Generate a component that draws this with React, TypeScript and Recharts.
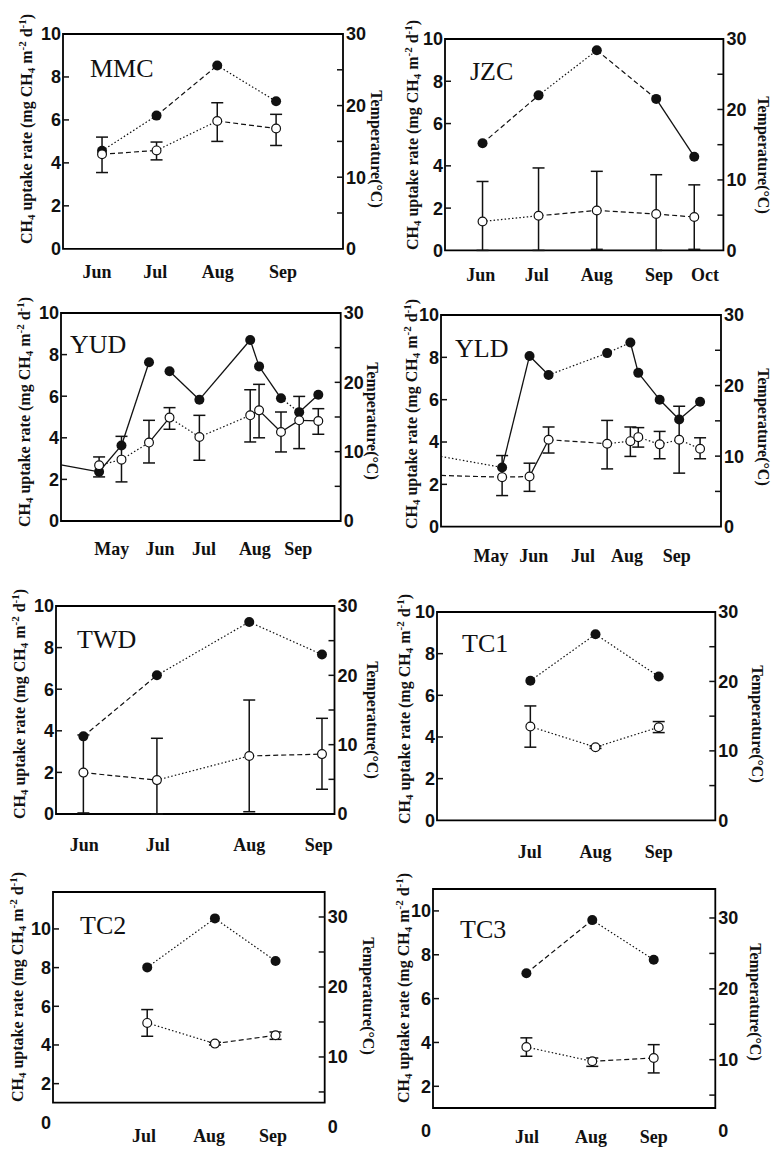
import React from 'react';
import { ComposedChart, Line, XAxis, YAxis, ErrorBar, ReferenceArea } from 'recharts';

// Segment codes, one per gap between points: s = solid, d = dashed, o = dotted, _ = no line

// MMC
const mmcMonths = ['Jun', 'Jul', 'Aug', 'Sep'];
const mmcMonthPos = [6, 6.94, 7.95, 9];
const mmcSampleX = [6.08, 6.96, 7.94, 8.89];
const mmcTemp = [13.7, 18.6, 25.6, 20.6];
const mmcRate = [4.4, 4.58, 5.95, 5.6];
const mmcRateLow = [3.55, 4.14, 5.0, 4.81];
const mmcRateHigh = [5.2, 4.97, 6.8, 6.26];
const mmcTempLines = 'odo';
const mmcRateLines = 'dod';

// JZC
const jzcMonths = ['Jun', 'Jul', 'Aug', 'Sep', 'Oct'];
const jzcMonthPos = [6, 7.0, 8.07, 9.18, 10];
const jzcSampleX = [6.03, 7.03, 8.07, 9.13, 9.81];
const jzcTemp = [15.2, 22.0, 28.4, 21.5, 13.3];
const jzcRate = [1.37, 1.64, 1.89, 1.72, 1.58];
const jzcRateLow = [0, 0, 0.05, 0, 0.05];
const jzcRateHigh = [3.26, 3.9, 3.74, 3.58, 3.1];
const jzcTempLines = 'dods';
const jzcRateLines = 'oddd';

// YUD
const yudMonths = ['May', 'Jun', 'Jul', 'Aug', 'Sep'];
const yudMonthPos = [5, 6.035, 6.98, 8.07, 9];
const yudSampleX = [4.73, 5.21, 5.8, 6.24, 6.88, 7.97, 8.16, 8.63, 9.02, 9.43];
const yudTempLeadIn = 8.1;
const yudTemp = [7.1, 10.9, 22.9, 21.6, 17.5, 26.1, 22.3, 17.7, 15.7, 18.2];
const yudRate = [2.68, 2.95, 3.77, 4.97, 4.04, 5.08, 5.32, 4.28, 4.84, 4.81];
const yudRateLow = [2.12, 1.88, 2.79, 4.41, 2.92, 3.8, 4.0, 3.32, 3.48, 4.17];
const yudRateHigh = [3.08, 4.07, 4.84, 5.45, 5.08, 6.31, 6.57, 5.24, 5.99, 5.4];
const yudTempLines = 'sss_ssssos';
const yudRateLines = 'oosoossss';

// YLD
const yldMonths = ['May', 'Jun', 'Jul', 'Aug', 'Sep'];
const yldMonthPos = [5, 5.92, 6.98, 7.93, 9];
const yldSampleX = [5.24, 5.83, 6.24, 7.5, 8.0, 8.17, 8.63, 9.05, 9.5];
const yldTempLeadIn = 9.95;
const yldTemp = [8.4, 24.2, 21.5, 24.6, 26.1, 21.8, 18.0, 15.2, 17.7];
const yldRateLeadIn = 2.42;
const yldRate = [2.34, 2.37, 4.11, 3.92, 4.04, 4.23, 3.89, 4.11, 3.68];
const yldRateLow = [1.47, 1.67, 3.48, 2.73, 3.32, 3.76, 3.21, 2.53, 3.21];
const yldRateHigh = [3.36, 3.0, 4.71, 5.02, 4.71, 4.68, 4.5, 5.69, 4.2];
const yldTempLines = 'ossoossss';
const yldRateLines = 'ddsdooooo';

// TWD
const twdMonths = ['Jun', 'Jul', 'Aug', 'Sep'];
const twdMonthPos = [6, 6.94, 8.11, 9];
const twdSampleX = [5.99, 6.93, 8.11, 9.04];
const twdTemp = [11.2, 20.0, 27.7, 23.0];
const twdRate = [1.99, 1.63, 2.79, 2.88];
const twdRateLow = [0.05, 0, 0.11, 1.19];
const twdRateHigh = [3.8, 3.64, 5.48, 4.6];
const twdTempLines = 'doo';
const twdRateLines = 'dod';

// TC1
const tc1Months = ['Jul', 'Aug', 'Sep'];
const tc1MonthPos = [7, 8.02, 9];
const tc1SampleX = [7.01, 8.02, 9.0];
const tc1Temp = [20.1, 26.8, 20.7];
const tc1Rate = [4.5, 3.51, 4.47];
const tc1RateLow = [3.51, 3.45, 4.21];
const tc1RateHigh = [5.49, 3.57, 4.74];
const tc1TempLines = 'oo';
const tc1RateLines = 'oo';

// TC2
const tc2Months = ['Jul', 'Aug', 'Sep'];
const tc2MonthPos = [7, 8.01, 9];
const tc2SampleX = [7.05, 8.1, 9.04];
const tc2Temp = [22.8, 29.8, 23.7];
const tc2Rate = [5.14, 4.07, 4.5];
const tc2RateLow = [4.45, 4.0, 4.29];
const tc2RateHigh = [5.83, 4.14, 4.67];
const tc2TempLines = 'oo';
const tc2RateLines = 'od';

// TC3
const tc3Months = ['Jul', 'Aug', 'Sep'];
const tc3MonthPos = [7, 8.01, 9];
const tc3SampleX = [6.99, 8.03, 9.0];
const tc3Temp = [22.2, 29.7, 24.1];
const tc3Rate = [3.79, 3.14, 3.29];
const tc3RateLow = [3.37, 2.91, 2.61];
const tc3RateHigh = [4.21, 3.29, 3.9];
const tc3TempLines = 'do';
const tc3RateLines = 'od';

const rateTicks = [0, 2, 4, 6, 8, 10];
const tempTicks = [0, 5, 10, 15, 20, 25, 30];

type Panel = {
  title: string;
  frame: [number, number, number, number]; // left, top, right, bottom (page px)
  xDomain: [number, number];
  lDomain: [number, number];
  rDomain: [number, number];
  months: string[];
  monthPos: number[];
  sampleX: number[];
  temp: number[];
  rate: number[];
  low: number[];
  high: number[];
  tempLines: string;
  rateLines: string;
  tempLeadIn?: number;
  rateLeadIn?: number;
  monthDy: number;
  titleAt: [number, number];
  rateLabelAt: [number, number];
  tempLabelAt: [number, number];
};

const panels: Panel[] = [
  {
    title: 'MMC', frame: [63, 33.5, 343, 248.3], xDomain: [5.45, 9.97], lDomain: [0, 10], rDomain: [0, 30],
    months: mmcMonths, monthPos: mmcMonthPos, sampleX: mmcSampleX, temp: mmcTemp, rate: mmcRate,
    low: mmcRateLow, high: mmcRateHigh, tempLines: mmcTempLines, rateLines: mmcRateLines,
    monthDy: 29, titleAt: [90, 77], rateLabelAt: [27, 129], tempLabelAt: [376, 149],
  },
  {
    title: 'JZC', frame: [445.3, 39.3, 723.7, 250.7], xDomain: [5.36, 10.33], lDomain: [0, 10], rDomain: [0, 30],
    months: jzcMonths, monthPos: jzcMonthPos, sampleX: jzcSampleX, temp: jzcTemp, rate: jzcRate,
    low: jzcRateLow, high: jzcRateHigh, tempLines: jzcTempLines, rateLines: jzcRateLines,
    monthDy: 31, titleAt: [470, 80], rateLabelAt: [413, 135], tempLabelAt: [763, 155],
  },
  {
    title: 'YUD', frame: [61, 312.7, 340.7, 520.7], xDomain: [3.913, 9.91], lDomain: [0, 10], rDomain: [0, 30],
    months: yudMonths, monthPos: yudMonthPos, sampleX: yudSampleX, temp: yudTemp, rate: yudRate,
    low: yudRateLow, high: yudRateHigh, tempLines: yudTempLines, rateLines: yudRateLines,
    tempLeadIn: yudTempLeadIn,
    monthDy: 34, titleAt: [70, 353], rateLabelAt: [25, 412], tempLabelAt: [372, 421],
  },
  {
    title: 'YLD', frame: [441, 315, 721, 526.7], xDomain: [3.925, 9.95], lDomain: [0, 10], rDomain: [0, 30],
    months: yldMonths, monthPos: yldMonthPos, sampleX: yldSampleX, temp: yldTemp, rate: yldRate,
    low: yldRateLow, high: yldRateHigh, tempLines: yldTempLines, rateLines: yldRateLines,
    tempLeadIn: yldTempLeadIn, rateLeadIn: yldRateLeadIn,
    monthDy: 35, titleAt: [455, 356.7], rateLabelAt: [412, 414], tempLabelAt: [763, 427],
  },
  {
    title: 'TWD', frame: [55.5, 606, 334, 814], xDomain: [5.64, 9.2], lDomain: [0, 10], rDomain: [0, 30],
    months: twdMonths, monthPos: twdMonthPos, sampleX: twdSampleX, temp: twdTemp, rate: twdRate,
    low: twdRateLow, high: twdRateHigh, tempLines: twdTempLines, rateLines: twdRateLines,
    monthDy: 37, titleAt: [77, 648.3], rateLabelAt: [20, 704], tempLabelAt: [372, 720],
  },
  {
    title: 'TC1', frame: [437, 611.7, 715.3, 820], xDomain: [5.563, 9.877], lDomain: [0, 10], rDomain: [0, 30],
    months: tc1Months, monthPos: tc1MonthPos, sampleX: tc1SampleX, temp: tc1Temp, rate: tc1Rate,
    low: tc1RateLow, high: tc1RateHigh, tempLines: tc1TempLines, rateLines: tc1RateLines,
    monthDy: 38, titleAt: [462, 651.7], rateLabelAt: [405, 709], tempLabelAt: [757, 724],
  },
  {
    title: 'TC2', frame: [53.3, 891.7, 325, 1102.3], xDomain: [5.589, 9.802], lDomain: [1.02, 11.91], rDomain: [3.48, 33.57],
    months: tc2Months, monthPos: tc2MonthPos, sampleX: tc2SampleX, temp: tc2Temp, rate: tc2Rate,
    low: tc2RateLow, high: tc2RateHigh, tempLines: tc2TempLines, rateLines: tc2RateLines,
    monthDy: 39, titleAt: [80, 934], rateLabelAt: [18, 987], tempLabelAt: [368, 996],
  },
  {
    title: 'TC3', frame: [433, 889.3, 715.3, 1108.3], xDomain: [5.516, 9.972], lDomain: [1.01, 11.0], rDomain: [3.18, 34.09],
    months: tc3Months, monthPos: tc3MonthPos, sampleX: tc3SampleX, temp: tc3Temp, rate: tc3Rate,
    low: tc3RateLow, high: tc3RateHigh, tempLines: tc3TempLines, rateLines: tc3RateLines,
    monthDy: 35, titleAt: [460, 938.3], rateLabelAt: [404, 988], tempLabelAt: [755, 1002],
  },
];

const INK = '#111';
const SANS = '"Liberation Sans", Arial, sans-serif';
const SERIF = '"Liberation Serif", "Times New Roman", serif';

const dashFor: Record<string, string | undefined> = { s: undefined, d: '5 3', o: '1.5 2.2' };

const filledDot = (p: any) => (
  <circle key={`f-${p.index}`} cx={p.cx} cy={p.cy} r={5} fill={INK} stroke="none" />
);
const openDot = (p: any) => (
  <circle key={`o-${p.index}`} cx={p.cx} cy={p.cy} r={4.4} fill="#fff" stroke={INK} strokeWidth={1.2} />
);

function withLeadIn(xs: number[], vs: number[], leadX: number, leadV?: number) {
  const pts = xs.map((x, i) => ({ x, v: vs[i] }));
  return leadV === undefined ? pts : [{ x: leadX, v: leadV }, ...pts];
}

function segmentLines(pts: { x: number; v: number }[], codes: string, axis: string, id: string) {
  const out: React.ReactNode[] = [];
  for (let i = 0; i < pts.length - 1; i++) {
    const c = codes[i];
    if (!c || c === '_') continue;
    out.push(
      <Line
        key={`${id}-${i}`}
        yAxisId={axis}
        data={[pts[i], pts[i + 1]]}
        dataKey="v"
        type="linear"
        stroke={INK}
        strokeWidth={c === 's' ? 1.3 : 1.2}
        strokeDasharray={dashFor[c]}
        dot={false}
        activeDot={false}
        isAnimationActive={false}
      />
    );
  }
  return out;
}

const PAD_X = 60;
const PAD_TOP = 20;
const PAD_BOTTOM = 58;

function PanelChart({ p }: { p: Panel }) {
  const [L, T, R, B] = p.frame;
  const w = R - L + 2 * PAD_X;
  const h = B - T + PAD_TOP + PAD_BOTTOM;

  const tempPts = withLeadIn(p.sampleX, p.temp, p.xDomain[0], p.tempLeadIn);
  const ratePts = withLeadIn(p.sampleX, p.rate, p.xDomain[0], p.rateLeadIn);
  const tempMarks = p.sampleX.map((x, i) => ({ x, v: p.temp[i] }));
  const rateMarks = p.sampleX.map((x, i) => ({
    x,
    v: p.rate[i],
    err: [p.rate[i] - p.low[i], p.high[i] - p.rate[i]],
  }));

  const inside = (v: number, d: [number, number]) => v > d[0] + 1e-6 && v < d[1] - 1e-6;

  const leftTick = (props: any) => {
    const { x, y, payload } = props;
    const v = payload.value;
    return (
      <g>
        {inside(v, p.lDomain) && <line x1={x} x2={x + 6} y1={y} y2={y} stroke={INK} strokeWidth={1.5} />}
        <text x={x - 2} y={y} dy="0.36em" textAnchor="end" fontFamily={SANS} fontWeight="bold" fontSize={18} fill={INK}>
          {v}
        </text>
      </g>
    );
  };

  const rightTick = (props: any) => {
    const { x, y, payload } = props;
    const v = payload.value;
    return (
      <g>
        {inside(v, p.rDomain) && <line x1={x - 6} x2={x} y1={y} y2={y} stroke={INK} strokeWidth={1.5} />}
        {v % 10 === 0 && (
          <text x={x + 3} y={y} dy="0.36em" textAnchor="start" fontFamily={SANS} fontWeight="bold" fontSize={18} fill={INK}>
            {v}
          </text>
        )}
      </g>
    );
  };

  const monthTick = (props: any) => {
    const { x, y, payload } = props;
    const idx = p.monthPos.indexOf(payload.value);
    return (
      <text x={x} y={y + p.monthDy} textAnchor="middle" fontFamily={SERIF} fontWeight="bold" fontSize={18} fill={INK}>
        {p.months[idx]}
      </text>
    );
  };

  return (
    <div style={{ position: 'absolute', left: L - PAD_X, top: T - PAD_TOP }}>
      <ComposedChart width={w} height={h} margin={{ top: PAD_TOP, right: 0, bottom: 0, left: 0 }}>
        <XAxis
          type="number"
          dataKey="x"
          domain={p.xDomain}
          allowDataOverflow
          ticks={p.monthPos}
          interval={0}
          axisLine={false}
          tickLine={false}
          tickSize={0}
          tickMargin={0}
          height={PAD_BOTTOM}
          tick={monthTick}
        />
        <YAxis
          yAxisId="l"
          orientation="left"
          type="number"
          domain={p.lDomain}
          allowDataOverflow
          ticks={rateTicks}
          interval={0}
          axisLine={false}
          tickLine={false}
          tickSize={0}
          tickMargin={0}
          width={PAD_X}
          tick={leftTick}
        />
        <YAxis
          yAxisId="r"
          orientation="right"
          type="number"
          domain={p.rDomain}
          allowDataOverflow
          ticks={tempTicks}
          interval={0}
          axisLine={false}
          tickLine={false}
          tickSize={0}
          tickMargin={0}
          width={PAD_X}
          tick={rightTick}
        />
        <ReferenceArea
          yAxisId="l"
          x1={p.xDomain[0]}
          x2={p.xDomain[1]}
          y1={p.lDomain[0]}
          y2={p.lDomain[1]}
          fill="none"
          stroke="#000"
          strokeWidth={1.8}
        />
        {segmentLines(tempPts, p.tempLines, 'r', `${p.title}-t`)}
        <Line
          yAxisId="r"
          data={tempMarks}
          dataKey="v"
          stroke="none"
          dot={filledDot}
          activeDot={false}
          isAnimationActive={false}
        />
        {segmentLines(ratePts, p.rateLines, 'l', `${p.title}-c`)}
        <Line
          yAxisId="l"
          data={rateMarks}
          dataKey="v"
          stroke="none"
          dot={openDot}
          activeDot={false}
          isAnimationActive={false}
        >
          <ErrorBar dataKey="err" width={6} stroke={INK} strokeWidth={1.5} direction="y" />
        </Line>
      </ComposedChart>
    </div>
  );
}

function RateLabel({ at }: { at: [number, number] }) {
  const [cx, cy] = at;
  return (
    <text
      transform={`translate(${cx + 5},${cy}) rotate(-90)`}
      textAnchor="middle"
      fontFamily={SERIF}
      fontWeight="bold"
      fontSize={16}
      fill={INK}
    >
      CH<tspan dy={3} fontSize={11}>4</tspan>
      <tspan dy={-3}> uptake rate (mg CH</tspan>
      <tspan dy={3} fontSize={11}>4</tspan>
      <tspan dy={-3}> m</tspan>
      <tspan dy={-6} fontSize={11}>-2</tspan>
      <tspan dy={6}> d</tspan>
      <tspan dy={-6} fontSize={11}>-1</tspan>
      <tspan dy={6}>)</tspan>
    </text>
  );
}

function TempLabel({ at }: { at: [number, number] }) {
  const [cx, cy] = at;
  return (
    <text
      transform={`translate(${cx - 5},${cy}) rotate(90)`}
      textAnchor="middle"
      fontFamily={SERIF}
      fontWeight="bold"
      fontSize={16}
      fill={INK}
    >
      Temperature(°C)
    </text>
  );
}

export default function App() {
  return (
    <div
      style={{
        position: 'absolute',
        left: 0,
        top: 0,
        width: 774,
        height: 1149,
        overflow: 'hidden',
        background: '#fff',
      }}
    >
      {panels.map((p) => (
        <PanelChart key={p.title} p={p} />
      ))}
      <svg
        width={774}
        height={1149}
        style={{ position: 'absolute', left: 0, top: 0, pointerEvents: 'none' }}
      >
        {panels.map((p) => (
          <g key={p.title}>
            <text x={p.titleAt[0]} y={p.titleAt[1]} fontFamily={SERIF} fontSize={26} fill={INK}>
              {p.title}
            </text>
            <RateLabel at={p.rateLabelAt} />
            <TempLabel at={p.tempLabelAt} />
          </g>
        ))}
      </svg>
    </div>
  );
}
